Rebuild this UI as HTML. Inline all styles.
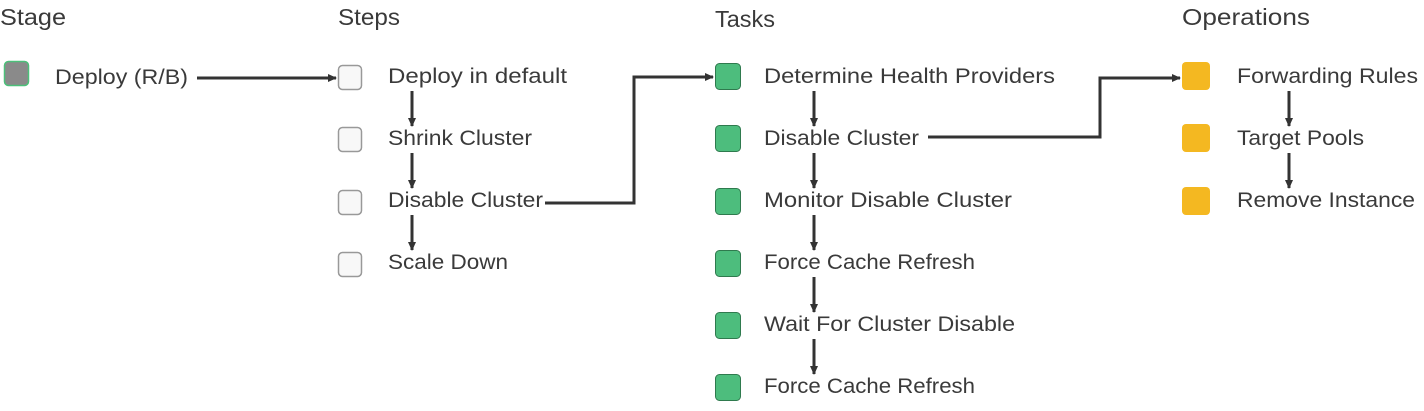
<!DOCTYPE html>
<html><head><meta charset="utf-8"><style>
html,body{margin:0;padding:0;background:#fff;width:1424px;height:411px;overflow:hidden}
text{font-family:"Liberation Sans",sans-serif;font-size:21px;fill:#3a3a3a}
.t{font-size:23px}
</style></head><body>
<svg width="1424" height="411" xmlns="http://www.w3.org/2000/svg">
<defs><marker id="a" markerWidth="10" markerHeight="10" refX="8" refY="5" orient="auto" markerUnits="userSpaceOnUse"><path d="M0,1 L9,5 L0,9 z" fill="#333"/></marker></defs>
<g>
<text class="t" x="0" y="25" textLength="66" lengthAdjust="spacingAndGlyphs">Stage</text>
<text class="t" x="338" y="25" textLength="62" lengthAdjust="spacingAndGlyphs">Steps</text>
<text class="t" x="715" y="27" textLength="60" lengthAdjust="spacingAndGlyphs">Tasks</text>
<text class="t" x="1182" y="25" textLength="128" lengthAdjust="spacingAndGlyphs">Operations</text>
</g>
<rect x="4.5" y="61.5" width="24" height="24" rx="4" fill="#8a8a8a" stroke="#4cc07a" stroke-width="1.5"/>
<text x="55" y="84" textLength="133" lengthAdjust="spacingAndGlyphs">Deploy (R/B)</text>
<g fill="#f8f8f8" stroke="#999" stroke-width="1.5">
<rect x="338.5" y="65.5" width="23" height="24" rx="4"/>
<rect x="338.5" y="127.5" width="23" height="24" rx="4"/>
<rect x="338.5" y="190.5" width="23" height="24" rx="4"/>
<rect x="338.5" y="252.5" width="23" height="24" rx="4"/>
</g>
<text x="388" y="83" textLength="179" lengthAdjust="spacingAndGlyphs">Deploy in default</text>
<text x="388" y="145" textLength="144" lengthAdjust="spacingAndGlyphs">Shrink Cluster</text>
<text x="388" y="207" textLength="155" lengthAdjust="spacingAndGlyphs">Disable Cluster</text>
<text x="388" y="269" textLength="120" lengthAdjust="spacingAndGlyphs">Scale Down</text>
<g fill="#4dbd7d" stroke="#2f7a4e" stroke-width="1">
<rect x="715.5" y="63.5" width="25" height="26" rx="4"/>
<rect x="715.5" y="125.5" width="25" height="26" rx="4"/>
<rect x="715.5" y="188.5" width="25" height="26" rx="4"/>
<rect x="715.5" y="250.5" width="25" height="26" rx="4"/>
<rect x="715.5" y="312.5" width="25" height="26" rx="4"/>
<rect x="715.5" y="374.5" width="25" height="26" rx="4"/>
</g>
<text x="764" y="83" textLength="291" lengthAdjust="spacingAndGlyphs">Determine Health Providers</text>
<text x="764" y="145" textLength="155" lengthAdjust="spacingAndGlyphs">Disable Cluster</text>
<text x="764" y="207" textLength="248" lengthAdjust="spacingAndGlyphs">Monitor Disable Cluster</text>
<text x="764" y="269" textLength="211" lengthAdjust="spacingAndGlyphs">Force Cache Refresh</text>
<text x="764" y="331" textLength="251" lengthAdjust="spacingAndGlyphs">Wait For Cluster Disable</text>
<text x="764" y="393" textLength="211" lengthAdjust="spacingAndGlyphs">Force Cache Refresh</text>
<g fill="#f4b821">
<rect x="1182" y="62" width="28" height="28" rx="4"/>
<rect x="1182" y="124" width="28" height="28" rx="4"/>
<rect x="1182" y="187" width="28" height="28" rx="4"/>
</g>
<text x="1237" y="83" textLength="181" lengthAdjust="spacingAndGlyphs">Forwarding Rules</text>
<text x="1237" y="145" textLength="127" lengthAdjust="spacingAndGlyphs">Target Pools</text>
<text x="1237" y="207" textLength="178" lengthAdjust="spacingAndGlyphs">Remove Instance</text>
<g stroke="#333" stroke-width="3" fill="none" marker-end="url(#a)">
<path d="M197,78 H336"/>
<path d="M412,91 V126"/>
<path d="M412,153 V188"/>
<path d="M412,215 V250"/>
<path d="M545,203 H634 V77 H713"/>
<path d="M814,91 V126"/>
<path d="M814,153 V188"/>
<path d="M814,215 V250"/>
<path d="M814,277 V312"/>
<path d="M814,339 V374"/>
<path d="M928,137 H1100 V78 H1180"/>
<path d="M1289,91 V126"/>
<path d="M1289,153 V188"/>
</g>
</svg>
</body></html>
